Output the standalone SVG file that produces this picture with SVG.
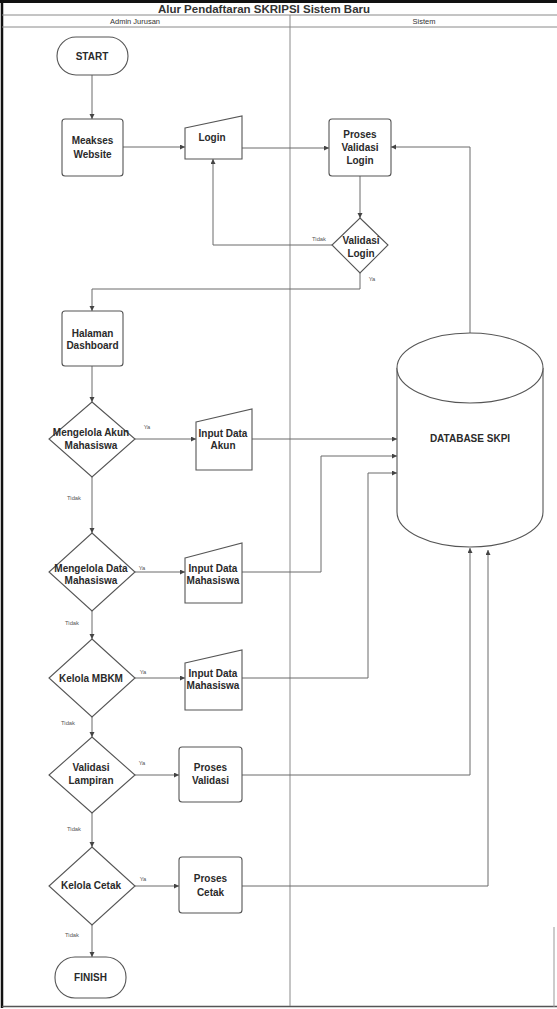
<svg xmlns="http://www.w3.org/2000/svg" width="557" height="1009" viewBox="0 0 557 1009">
<style>
.node{fill:#fff;stroke:#555;stroke-width:1.1}
.t{font-family:"Liberation Sans",Arial,sans-serif;font-weight:bold;font-size:10px;fill:#2a2a2a;text-anchor:middle;dominant-baseline:central}
.lbl{font-family:"Liberation Sans",Arial,sans-serif;font-size:5.8px;fill:#555;text-anchor:middle;dominant-baseline:central}
.hdr{font-family:"Liberation Sans",Arial,sans-serif;font-size:7.5px;fill:#333;text-anchor:middle;dominant-baseline:central}
.lane{stroke:#8a8a8a;stroke-width:1;fill:none}
.c{stroke:#6a6a6a;stroke-width:1;fill:none;marker-end:url(#ah)}
</style>
<defs>
<marker id="ah" markerUnits="userSpaceOnUse" markerWidth="6" markerHeight="6" refX="5" refY="2.5" orient="auto">
<path d="M0,0 L5,2.5 L0,5 Z" fill="#444"/>
</marker>
</defs>
<rect width="557" height="1009" fill="#fff"/>
<g id="frame">
<line x1="0" y1="1.5" x2="557" y2="1.5" stroke="#111" stroke-width="3"/>
<line x1="2" y1="0" x2="2" y2="1008" stroke="#111" stroke-width="2.5"/>
<line x1="2" y1="1006.5" x2="557" y2="1006.5" stroke="#555" stroke-width="1.5"/>
<line x1="554" y1="927" x2="554" y2="1007" stroke="#999" stroke-width="1"/>
<line class="lane" x1="2" y1="15" x2="557" y2="15"/>
<line class="lane" x1="2" y1="27" x2="557" y2="27"/>
<line class="lane" x1="290" y1="15" x2="290" y2="1006"/>
<text x="264" y="8.5" font-family="Liberation Sans,Arial,sans-serif" font-weight="bold" font-size="11.5" fill="#333" text-anchor="middle" dominant-baseline="central">Alur Pendaftaran SKRIPSI Sistem Baru</text>
<text class="hdr" x="135" y="21">Admin Jurusan</text>
<text class="hdr" x="424" y="21">Sistem</text>
</g>
<g id="connectors">
<path class="c" d="M92,75 L92,119"/>
<path class="c" d="M123,147 L185,147"/>
<path class="c" d="M242,148 L329,148"/>
<path class="c" d="M470,333 L470,147 L391,147"/>
<path class="c" d="M360,176 L360,218"/>
<path class="c" d="M332,245 L213,245 L213,159"/>
<path class="c" d="M360,273 L360,289 L92,289 L92,311"/>
<path class="c" d="M92,366 L92,402"/>
<path class="c" d="M135,439 L196,439"/>
<path class="c" d="M252,439 L397,439"/>
<path class="c" d="M92,477 L92,533"/>
<path class="c" d="M135,572 L185,572"/>
<path class="c" d="M242,572 L321,572 L321,456 L397,456"/>
<path class="c" d="M92,611 L92,639"/>
<path class="c" d="M135,678 L185,678"/>
<path class="c" d="M242,678 L368,678 L368,473 L397,473"/>
<path class="c" d="M92,717 L92,737"/>
<path class="c" d="M135,775 L179,775"/>
<path class="c" d="M242,775 L470,775 L470,548"/>
<path class="c" d="M92,813 L92,847"/>
<path class="c" d="M135,886 L179,886"/>
<path class="c" d="M242,886 L488,886 L488,550"/>
<path class="c" d="M92,925 L92,957"/>
<text class="lbl" x="319" y="239">Tidak</text>
<text class="lbl" x="372" y="279">Ya</text>
<text class="lbl" x="147" y="427">Ya</text>
<text class="lbl" x="74" y="498">Tidak</text>
<text class="lbl" x="142" y="568">Ya</text>
<text class="lbl" x="72" y="623">Tidak</text>
<text class="lbl" x="143" y="672">Ya</text>
<text class="lbl" x="68" y="723">Tidak</text>
<text class="lbl" x="142" y="763">Ya</text>
<text class="lbl" x="74" y="829">Tidak</text>
<text class="lbl" x="143" y="879">Ya</text>
<text class="lbl" x="72" y="935">Tidak</text>
</g>
<g id="start">
<rect class="node" x="57" y="37" width="71" height="38" rx="19"/>
<text class="t" x="92" y="56">START</text>
</g>
<g id="meakses">
<rect class="node" x="62" y="119" width="61" height="57" rx="3"/>
<text class="t" x="92.5" y="140">Meakses</text>
<text class="t" x="92.5" y="154">Website</text>
</g>
<g id="login">
<path class="node" d="M185,128 L242,116 L242,159 L185,159 Z"/>
<text class="t" x="212" y="137">Login</text>
</g>
<g id="proses-validasi-login">
<rect class="node" x="329" y="119" width="62" height="57" rx="3"/>
<text class="t" x="360" y="134">Proses</text>
<text class="t" x="360" y="147">Validasi</text>
<text class="t" x="360" y="160">Login</text>
</g>
<g id="validasi-login">
<path class="node" d="M360,218 L388,245 L360,273 L332,245 Z"/>
<text class="t" x="361" y="240">Validasi</text>
<text class="t" x="361" y="253">Login</text>
</g>
<g id="halaman-dashboard">
<rect class="node" x="62" y="311" width="61" height="55" rx="3"/>
<text class="t" x="92.5" y="333">Halaman</text>
<text class="t" x="92.5" y="345">Dashboard</text>
</g>
<g id="mengelola-akun">
<path class="node" d="M92,402 L135,439 L92,477 L49,439 Z"/>
<text class="t" x="91" y="432">Mengelola Akun</text>
<text class="t" x="91" y="445">Mahasiswa</text>
</g>
<g id="input-data-akun">
<path class="node" d="M196,422 L252,409 L252,470 L196,470 Z"/>
<text class="t" x="223" y="433">Input Data</text>
<text class="t" x="223" y="445">Akun</text>
</g>
<g id="database">
<path class="node" d="M397,368 A73,35 0 0 1 543,368 L543,512 A73,35 0 0 1 397,512 Z"/>
<path class="node" fill="none" d="M397,368 A73,35 0 0 0 543,368"/>
<text class="t" x="470" y="438">DATABASE SKPI</text>
</g>
<g id="mengelola-data">
<path class="node" d="M92,533 L135,572 L92,611 L49,572 Z"/>
<text class="t" x="91" y="568">Mengelola Data</text>
<text class="t" x="91" y="580">Mahasiswa</text>
</g>
<g id="input-data-mahasiswa-1">
<path class="node" d="M185,558 L242,543 L242,603 L185,603 Z"/>
<text class="t" x="213" y="568">Input Data</text>
<text class="t" x="213" y="580">Mahasiswa</text>
</g>
<g id="kelola-mbkm">
<path class="node" d="M92,639 L135,678 L92,717 L49,678 Z"/>
<text class="t" x="91" y="678">Kelola MBKM</text>
</g>
<g id="input-data-mahasiswa-2">
<path class="node" d="M185,663 L242,650 L242,710 L185,710 Z"/>
<text class="t" x="213" y="673" font-size="8">Input Data</text>
<text class="t" x="213" y="685" font-size="10.5">Mahasiswa</text>
</g>
<g id="validasi-lampiran">
<path class="node" d="M92,737 L135,775 L92,813 L49,775 Z"/>
<text class="t" x="91" y="767">Validasi</text>
<text class="t" x="91" y="780">Lampiran</text>
</g>
<g id="proses-validasi">
<rect class="node" x="179" y="747" width="63" height="55" rx="3"/>
<text class="t" x="210.5" y="767">Proses</text>
<text class="t" x="210.5" y="780">Validasi</text>
</g>
<g id="kelola-cetak">
<path class="node" d="M92,847 L135,886 L92,925 L49,886 Z"/>
<text class="t" x="91" y="885">Kelola Cetak</text>
</g>
<g id="proses-cetak">
<rect class="node" x="179" y="857" width="63" height="56" rx="3"/>
<text class="t" x="210.5" y="878">Proses</text>
<text class="t" x="210.5" y="892">Cetak</text>
</g>
<g id="finish">
<rect class="node" x="55" y="957" width="71" height="41" rx="20"/>
<text class="t" x="90.5" y="977">FINISH</text>
</g>
</svg>
